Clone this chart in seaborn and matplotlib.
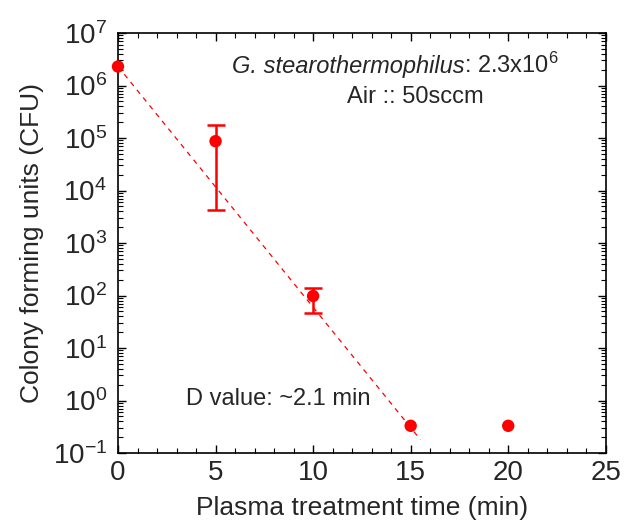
import numpy as np
import pandas as pd
import matplotlib
matplotlib.use('Agg')
import matplotlib.pyplot as plt
import seaborn as sns
from matplotlib.ticker import LogLocator, MultipleLocator, FixedLocator, FuncFormatter

### data ############################################
time_min = [0, 5, 10, 15, 20]
cfu = [2.3e6, 8.7e4, 98, 0.33, 0.33]
err_low = [np.nan, 4.3e3, 47, np.nan, np.nan]   # lower end of error bar
err_high = [np.nan, 1.78e5, 141, np.nan, np.nan] # upper end of error bar
fit_time = [0, 15.5]
fit_cfu = [2.3e6, 0.18]
y_decades = [-1, 0, 1, 2, 3, 4, 5, 6, 7]
x_ticks = [0, 5, 10, 15, 20, 25]

df = pd.DataFrame({'t': time_min, 'cfu': cfu})
df_fit = pd.DataFrame({'t': fit_time, 'cfu': fit_cfu})

### style ############################################
sns.set_theme(style='ticks')
plt.rcParams['font.family'] = ['Liberation Sans', 'DejaVu Sans']
plt.rcParams['mathtext.fontset'] = 'custom'
plt.rcParams['mathtext.rm'] = 'Liberation Sans'
plt.rcParams['mathtext.it'] = 'Liberation Sans:italic'

fig = plt.figure(figsize=(6.33, 5.2), dpi=100)
ax = fig.add_axes([0.1864, 0.1288, 0.7706, 0.8077])

# fit line
sns.lineplot(data=df_fit, x='t', y='cfu', ax=ax, color='red', linestyle=(0, (4, 4)), linewidth=0.9)

# error bars
lo = np.array(cfu) - np.array(err_low)
hi = np.array(err_high) - np.array(cfu)
ax.errorbar(time_min, cfu, yerr=[lo, hi], fmt='none', ecolor='red', elinewidth=1.8,
            capsize=6.5, capthick=1.8)

# points
sns.scatterplot(data=df, x='t', y='cfu', ax=ax, color='red', s=80, edgecolor='none', zorder=5, clip_on=False)

ax.set_yscale('log')
ax.set_xlim(0, 25)
ax.set_ylim(1e-1, 1e7)

ax.xaxis.set_major_locator(FixedLocator(x_ticks))
ax.xaxis.set_minor_locator(MultipleLocator(1))
ax.yaxis.set_major_locator(FixedLocator([10.0 ** d for d in y_decades]))
ax.yaxis.set_minor_locator(LogLocator(base=10, subs=np.arange(2, 10), numticks=20))
ax.yaxis.set_major_formatter(FuncFormatter(lambda v, p: r'$10^{%d}$' % round(np.log10(v))))
ax.xaxis.set_major_formatter(FuncFormatter(lambda v, p: '%d' % v))

ax.tick_params(which='both', direction='in', top=True, right=True, color='black')
ax.tick_params(which='major', length=6, width=1.0, labelsize=20)
ax.tick_params(axis='x', which='major', pad=5)
ax.tick_params(axis='y', which='major', pad=8)
ax.tick_params(which='minor', length=3.5, width=0.8)
for s in ax.spines.values():
    s.set_linewidth(1.2)
    s.set_color('black')

ax.set_xlabel('Plasma treatment time (min)', fontsize=19)
ax.set_ylabel('Colony forming units (CFU)', fontsize=19)
ax.xaxis.set_label_coords(0.5, -0.103)
ax.yaxis.set_label_coords(-0.152, 0.5)

t1 = ax.text(0.71, 0.905, 'G. stearothermophilus', transform=ax.transAxes, ha='right', va='baseline',
             fontsize=17, style='italic')
ax.annotate(': 2.3x10$^6$', xy=(1, 0), xycoords=t1, ha='left', va='bottom', fontsize=17)
ax.text(0.609, 0.833, 'Air :: 50sccm', transform=ax.transAxes, ha='center', va='baseline', fontsize=17)
ax.text(0.328, 0.114, 'D value: ~2.1 min', transform=ax.transAxes, ha='center', va='baseline', fontsize=17)

fig.savefig('out.png', dpi=100)
